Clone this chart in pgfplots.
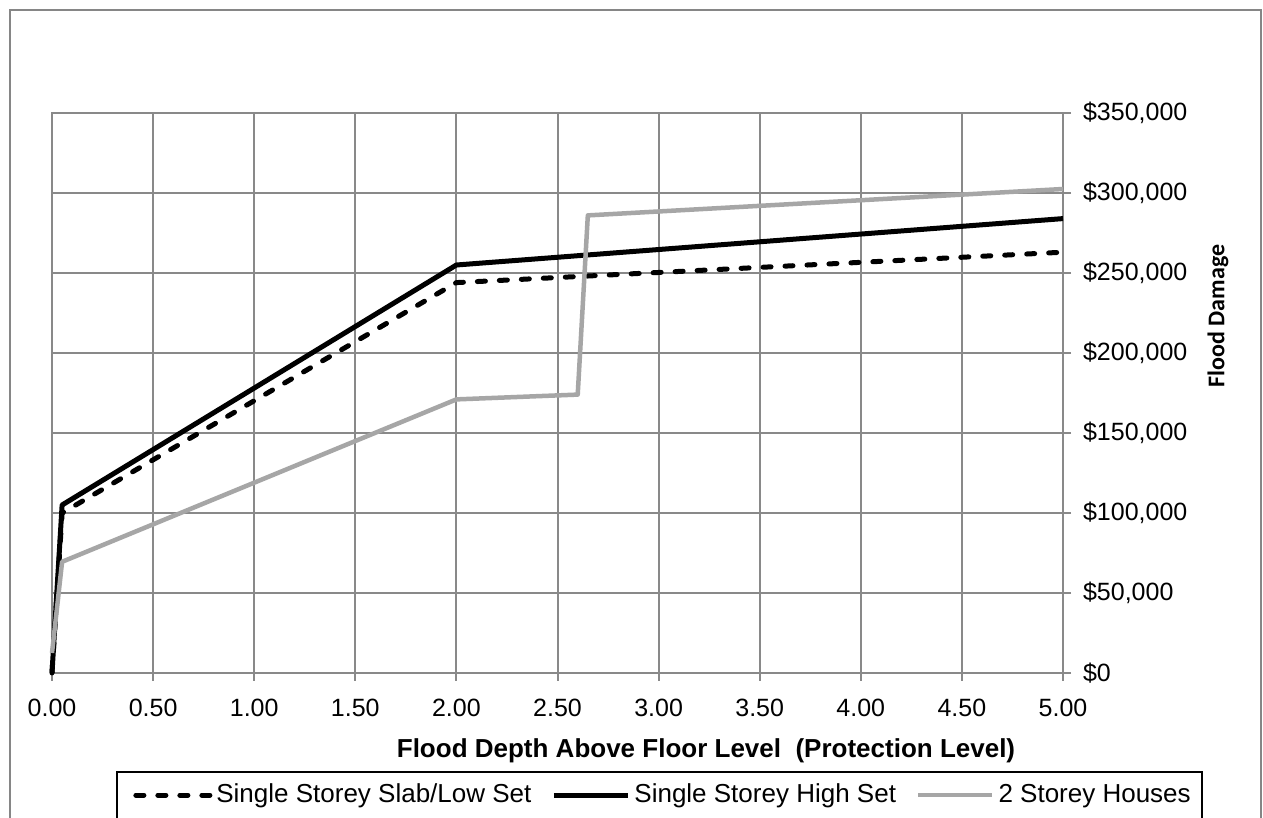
\documentclass[border=0pt]{standalone}
\usepackage{fontspec}
\setmainfont{Liberation Sans}
\newfontfamily\calibri{Carlito}
\usepackage{pgfplots}
\pgfplotsset{compat=1.18}
\definecolor{gridgray}{HTML}{898989}
\definecolor{linegray}{HTML}{A6A6A6}
\definecolor{framegray}{HTML}{868686}

\begin{document}
\begin{tikzpicture}[x=1pt,y=1pt]
\useasboundingbox (0,0) rectangle (631.5,409);
\clip (0,0) rectangle (631.5,409);
\fill[white] (0,0) rectangle (631.5,409);
\draw[framegray, line width=1pt] (5,-20) -- (5,404) -- (630.5,404) -- (630.5,-20);
\draw[black, line width=0.6pt] (58.5,-20) rectangle (601,23);
\begin{axis}[
  at={(26pt,72.5pt)}, anchor=south west,
  width=505.5pt, height=280pt, scale only axis,
  xmin=0, xmax=5, ymin=0, ymax=350000,
  xtick={0,0.5,1,1.5,2,2.5,3,3.5,4,4.5,5},
  ytick={0,50000,100000,150000,200000,250000,300000,350000},
  yticklabels={{\$0},{\$50,000},{\$100,000},{\$150,000},{\$200,000},{\$250,000},{\$300,000},{\$350,000}},
  scaled y ticks=false,
  /pgf/number format/assume math mode=true,
  x tick label style={/pgf/number format/.cd, fixed, fixed zerofill, precision=2, /tikz/.cd, font=\fontsize{12.5}{14}\selectfont, yshift=-5.5pt},
  y tick label style={font=\fontsize{12.5}{14}\selectfont, anchor=west, xshift=2.5pt},
  tick align=outside, xtick pos=bottom, ytick pos=right, yticklabel pos=right,
  major tick length=4pt,
  tick style={gridgray, line width=1pt},
  axis line style={gridgray, line width=1pt},
  grid=major, major grid style={gridgray, line width=1pt},
  clip=false,
  legend columns=3,
  legend style={at={(0.0801,-0.2179)}, anchor=west, draw=none, fill=none,
    font=\fontsize{13}{15}\selectfont, inner xsep=0pt, inner ysep=0pt,
    /tikz/every even column/.append style={column sep=8pt},
    /tikz/every odd column/.append style={column sep=0pt}},
  legend cell align=left,
  legend image code/.code={\draw[#1] (0pt,0pt) -- (37pt,0pt);},
]
\addplot[black, line width=2.5pt, dash pattern=on 4pt off 7pt, line cap=round, line join=round] coordinates {
  (0,0) (0.05,100000) (2,244000) (5,263000)};
\addlegendentry{Single Storey Slab/Low Set}
\addplot[black, line width=2.5pt, line join=round] coordinates {
  (0,0) (0.05,105000) (2,255000) (5,284000)};
\addlegendentry{Single Storey High Set}
\addplot[linegray, line width=2.25pt, line join=round] coordinates {
  (0,12500) (0.05,69500) (2,171000) (2.6,174000) (2.65,286000) (5,302500)};
\addlegendentry{2 Storey Houses}
\end{axis}
\node[font=\bfseries\fontsize{13}{15}\selectfont] at (353,33.5) {Flood Depth Above Floor Level\ \ (Protection Level)};
\node[rotate=90, font=\calibri\bfseries\fontsize{12}{14}\selectfont] at (609,251) {Flood Damage};
\end{tikzpicture}
\end{document}
